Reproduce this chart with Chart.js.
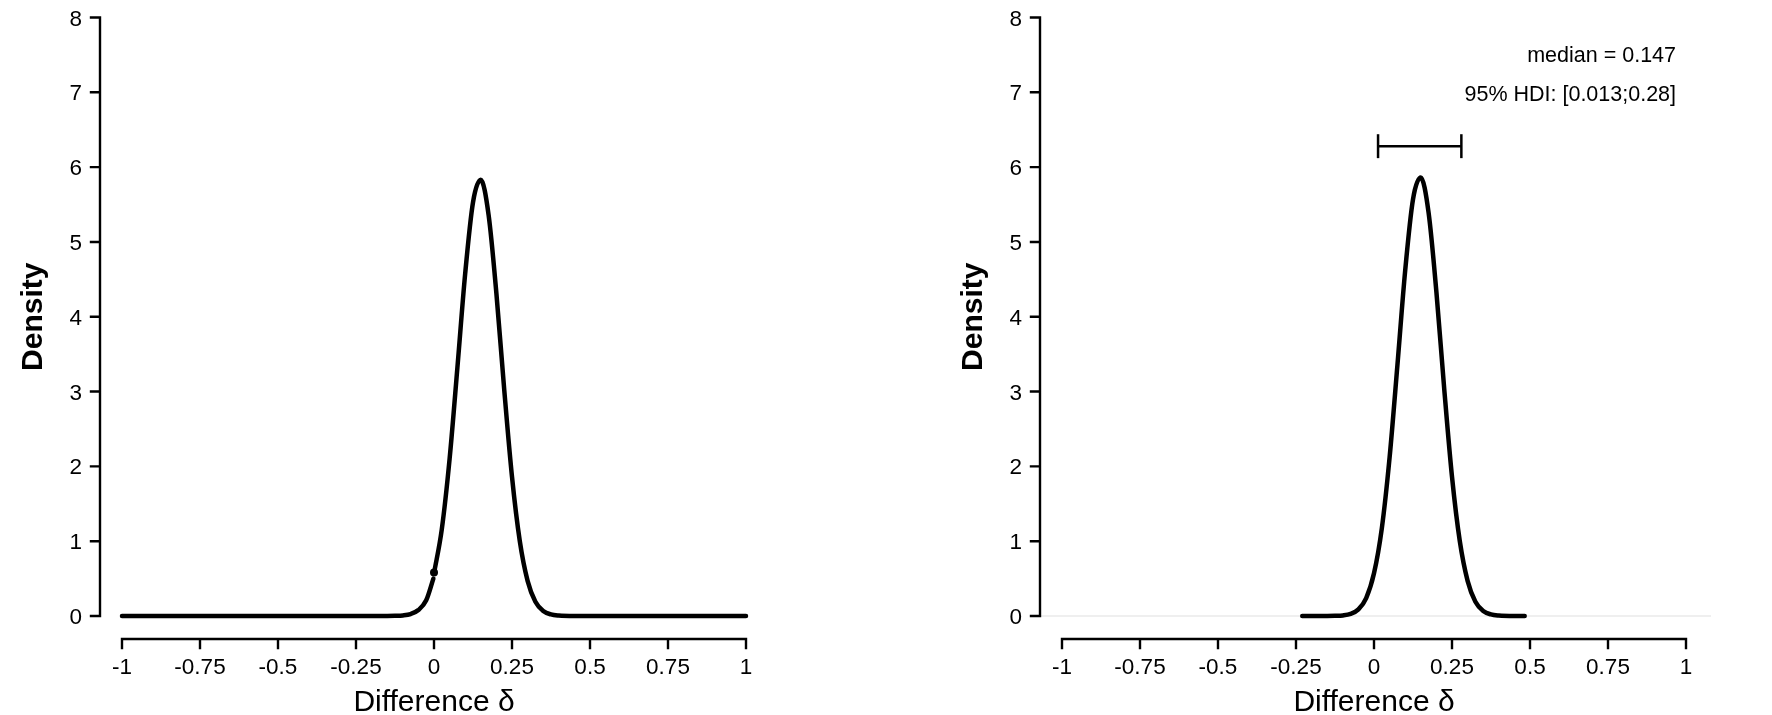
<!DOCTYPE html>
<html>

<head>
    <script src="https://cdn.jsdelivr.net/npm/chart.js"></script>
    <style>
        body { margin: 0; background: #fff; }
        #wrap { position: relative; width: 1772px; height: 715px; }
        canvas { position: absolute; top: 0; }
    </style>
</head>

<body>
    <div id="wrap">
        <canvas id="left" width="886" height="715" style="left:0"></canvas>
        <canvas id="right" width="832" height="715" style="left:940px"></canvas>
    </div>
    <script>
        // tick values / labels
        var xTicks = [-1, -0.75, -0.5, -0.25, 0, 0.25, 0.5, 0.75, 1];
        var xTickLabels = ['-1', '-0.75', '-0.5', '-0.25', '0', '0.25', '0.5', '0.75', '1'];
        var yTicks = [0, 1, 2, 3, 4, 5, 6, 7, 8];

        // left panel: density below zero, density from zero up, point at zero
        var leftTailX = [-1, -0.5, -0.25, -0.15, -0.125, -0.1, -0.075, -0.05, -0.025, -0.002];
        var leftTailY = [0, 0, 0, 0.001, 0.003, 0.008, 0.026, 0.08, 0.21, 0.5];
        var leftBodyX = [0, 0.025, 0.05, 0.075, 0.1, 0.125, 0.15, 0.175, 0.2, 0.225, 0.25, 0.275, 0.3, 0.325, 0.35, 0.375, 0.4, 0.45, 0.5, 1];
        var leftBodyY = [0.57, 1.16, 2.1, 3.32, 4.58, 5.53, 5.83, 5.36, 4.31, 3.03, 1.86, 1.0, 0.47, 0.19, 0.068, 0.021, 0.006, 0, 0, 0];
        var pointAtZero = [0, 0.58];

        // right panel: posterior density and 95% HDI
        var rightX = [-0.23, -0.2, -0.15, -0.125, -0.1, -0.075, -0.05, -0.025, 0, 0.025, 0.05, 0.075, 0.1, 0.125, 0.15, 0.175, 0.2, 0.225, 0.25, 0.275, 0.3, 0.325, 0.35, 0.375, 0.4, 0.45, 0.483];
        var rightY = [0, 0, 0.001, 0.003, 0.008, 0.028, 0.088, 0.24, 0.57, 1.17, 2.12, 3.35, 4.62, 5.57, 5.86, 5.39, 4.33, 3.04, 1.86, 1.0, 0.47, 0.19, 0.068, 0.021, 0.006, 0, 0];
        var hdi = [0.013, 0.28];
        var hdiHeight = 6.28;
        var medianText = 'median = 0.147';
        var hdiText = '95% HDI: [0.013;0.28]';
        var baselineX = [-1.0705, 1.08];

        var FONT = '"Liberation Sans", Arial, Helvetica, sans-serif';

        function pts(xs, ys) {
            return xs.map(function (x, i) { return { x: x, y: ys[i] }; });
        }

        function curve(xs, ys) {
            return {
                data: pts(xs, ys),
                showLine: true,
                borderColor: '#000',
                borderWidth: 4.5,
                borderCapStyle: 'round',
                pointRadius: 0,
                cubicInterpolationMode: 'monotone',
                clip: false
            };
        }

        function segment(data, width, color, order) {
            return {
                data: data,
                showLine: true,
                borderColor: color || '#000',
                borderWidth: width,
                pointRadius: 0,
                tension: 0,
                clip: false,
                order: order || 0
            };
        }

        // R style axes, drawn from the chart's own scales
        var rAxes = {
            id: 'rAxes',
            afterDraw: function (chart) {
                var ctx = chart.ctx;
                var sx = chart.scales.x, sy = chart.scales.y;
                var ax = chart.chartArea.left;
                var ay = sy.getPixelForValue(0) + 23;
                ctx.save();
                ctx.strokeStyle = '#000';
                ctx.fillStyle = '#000';
                ctx.lineWidth = 2.4;
                ctx.lineCap = 'square';

                // y axis
                ctx.beginPath();
                ctx.moveTo(ax, sy.getPixelForValue(yTicks[0]));
                ctx.lineTo(ax, sy.getPixelForValue(yTicks[yTicks.length - 1]));
                yTicks.forEach(function (t) {
                    var py = sy.getPixelForValue(t);
                    ctx.moveTo(ax, py);
                    ctx.lineTo(ax - 9, py);
                });
                ctx.stroke();
                ctx.font = '22.5px ' + FONT;
                ctx.textAlign = 'right';
                ctx.textBaseline = 'alphabetic';
                yTicks.forEach(function (t) {
                    ctx.fillText(String(t), ax - 18, sy.getPixelForValue(t) + 8);
                });

                // x axis
                ctx.beginPath();
                ctx.moveTo(sx.getPixelForValue(xTicks[0]), ay);
                ctx.lineTo(sx.getPixelForValue(xTicks[xTicks.length - 1]), ay);
                xTicks.forEach(function (t) {
                    var px = sx.getPixelForValue(t);
                    ctx.moveTo(px, ay);
                    ctx.lineTo(px, ay + 9);
                });
                ctx.stroke();
                ctx.textAlign = 'center';
                xTicks.forEach(function (t, i) {
                    ctx.fillText(xTickLabels[i], sx.getPixelForValue(t), 674);
                });

                // axis titles
                ctx.font = '30px ' + FONT;
                ctx.fillText('Difference \u03b4', sx.getPixelForValue(0), 711);
                ctx.save();
                ctx.translate(34, sy.getPixelForValue(4));
                ctx.rotate(-Math.PI / 2);
                ctx.font = 'bold 30px ' + FONT;
                ctx.textBaseline = 'middle';
                ctx.fillText('Density', 0, 0);
                ctx.restore();

                var notes = chart.options.plugins.rAxes.notes || [];
                ctx.font = '21.5px ' + FONT;
                ctx.textAlign = 'right';
                notes.forEach(function (n) {
                    ctx.fillText(n.text, sx.getPixelForValue(n.x), sy.getPixelForValue(n.y));
                });
                ctx.restore();
            }
        };

        function makePanel(id, padRight, datasets, notes) {
            return new Chart(document.getElementById(id), {
                type: 'scatter',
                data: { datasets: datasets },
                options: {
                    responsive: false,
                    animation: false,
                    devicePixelRatio: 1,
                    layout: { padding: { left: 100, right: padRight, top: 17.5, bottom: 99 } },
                    scales: {
                        x: { type: 'linear', min: -1.0705, max: 1.0705, display: false },
                        y: { type: 'linear', min: 0, max: 8, display: false }
                    },
                    plugins: {
                        legend: { display: false },
                        tooltip: { enabled: false },
                        rAxes: { notes: notes }
                    }
                },
                plugins: [rAxes]
            });
        }

        makePanel('left', 118, [
            curve(leftTailX, leftTailY),
            curve(leftBodyX, leftBodyY),
            {
                data: [{ x: pointAtZero[0], y: pointAtZero[1] }],
                pointRadius: 4,
                pointBackgroundColor: '#000',
                pointBorderWidth: 0,
                clip: false
            }
        ], []);

        makePanel('right', 64, [
            curve(rightX, rightY),
            segment([{ x: hdi[0], y: hdiHeight }, { x: hdi[1], y: hdiHeight }], 2.5),
            segment([{ x: hdi[0], y: hdiHeight - 0.16 }, { x: hdi[0], y: hdiHeight + 0.16 }], 2.5),
            segment([{ x: hdi[1], y: hdiHeight - 0.16 }, { x: hdi[1], y: hdiHeight + 0.16 }], 2.5),
            segment([{ x: baselineX[0], y: 0 }, { x: baselineX[1], y: 0 }], 2, '#efefef', 10)
        ], [
            { text: medianText, x: 0.968, y: 7.4 },
            { text: hdiText, x: 0.968, y: 6.88 }
        ]);
    </script>

</body>

</html>
